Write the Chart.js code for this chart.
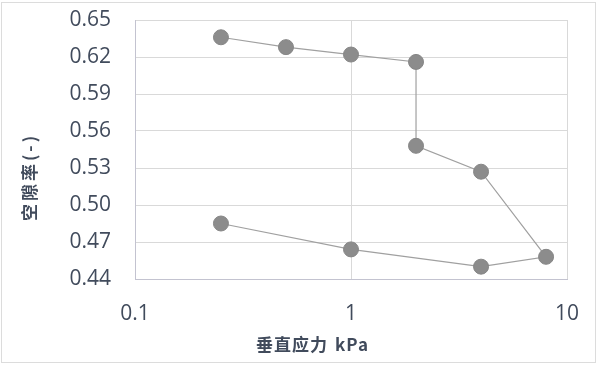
<!DOCTYPE html>
<html>
<head>
<meta charset="utf-8">
<script src="https://cdn.jsdelivr.net/npm/chart.js@4"></script>
<style>
  html, body { margin: 0; padding: 0; background: #fff; }
  #wrap { width: 600px; height: 365px; }
</style>
</head>
<body>
<div id="wrap"><canvas id="myChart"></canvas></div>
<script>
// datos
const presion = [0.25, 0.5, 1, 2, 2, 4, 8, 4, 1, 0.25]; // kPa
const vacios = [0.636, 0.628, 0.622, 0.616, 0.548, 0.527, 0.458, 0.450, 0.464, 0.485];
const xTicks = [0.1, 1, 10];
const yTicks = [0.44, 0.47, 0.50, 0.53, 0.56, 0.59, 0.62, 0.65];
const xTitle = ['垂直应力', 'kPa'];
const yTitle = '空隙率(-)';

const textColor = '#414b5c';
const gridColor = '#d9d9d9';

// titulos y marco dibujados a mano
const extras = {
  id: 'extras',
  beforeDraw(chart) {
    const ctx = chart.ctx;
    ctx.save();
    ctx.strokeStyle = '#dcdcdc';
    ctx.lineWidth = 1;
    ctx.strokeRect(1.5, 2.5, 594, 360);
    ctx.restore();
  },
  afterDraw(chart) {
    const ctx = chart.ctx;
    ctx.save();
    ctx.fillStyle = textColor;
    ctx.font = 'bold 17px "Noto Sans CJK SC", "Noto Sans"';
    ctx.textAlign = 'center';
    ctx.textBaseline = 'middle';
    ctx.letterSpacing = '1px';
    ctx.fillText(xTitle[0], 292, 345);
    ctx.fillText(xTitle[1], 352, 345);
    ctx.translate(30, 177);
    ctx.rotate(-Math.PI / 2);
    ctx.letterSpacing = '3px';
    ctx.fillText(yTitle, 0, 0);
    ctx.restore();
  }
};

new Chart(document.getElementById('myChart'), {
  type: 'scatter',
  data: {
    datasets: [{
      data: presion.map((x, i) => ({ x: x, y: vacios[i] })),
      showLine: true,
      borderColor: '#a0a0a0',
      borderWidth: 1.2,
      backgroundColor: '#8c8c8c',
      pointBackgroundColor: '#8c8c8c',
      pointBorderColor: '#868686',
      pointBorderWidth: 1,
      pointRadius: 7.5,
      tension: 0
    }]
  },
  options: {
    responsive: true,
    maintainAspectRatio: false,
    animation: false,
    layout: { padding: { top: 20, right: 33, left: 0, bottom: 0 } },
    plugins: {
      legend: { display: false },
      tooltip: { enabled: false }
    },
    scales: {
      x: {
        type: 'logarithmic',
        min: 0.1,
        max: 10,
        afterBuildTicks: s => { s.ticks = xTicks.map(v => ({ value: v })); },
        afterFit: s => { s.height = 86; s.paddingLeft = 0; s.paddingRight = 0; },
        grid: { color: gridColor, drawTicks: false },
        border: { color: '#c3c3d0' },
        ticks: {
          color: textColor,
          font: { family: '"Open Sans"', size: 21 },
          padding: 22,
          maxRotation: 0,
          callback: v => String(v)
        }
      },
      y: {
        min: 0.44,
        max: 0.65,
        afterBuildTicks: s => { s.ticks = yTicks.map(v => ({ value: v })); },
        afterFit: s => { s.width = 135; s.paddingTop = 0; s.paddingBottom = 0; },
        grid: { color: gridColor, drawTicks: false },
        border: { color: '#c3c3d0' },
        ticks: {
          color: textColor,
          font: { family: '"Open Sans"', size: 21 },
          padding: 24,
          callback: v => Number(v).toFixed(2)
        }
      }
    }
  },
  plugins: [extras]
});
</script>
</body>
</html>
